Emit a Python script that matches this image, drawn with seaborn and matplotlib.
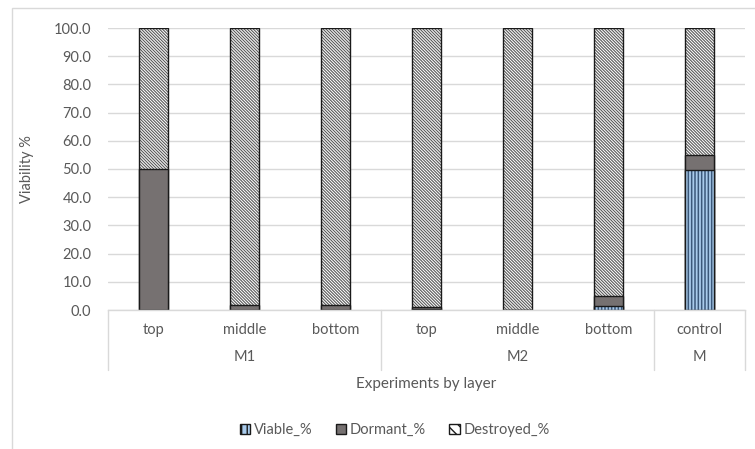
import numpy as np
import pandas as pd
import matplotlib
matplotlib.use("Agg")
import matplotlib.pyplot as plt
import matplotlib.transforms as mtransforms
from matplotlib.patches import Patch, Rectangle
import seaborn as sns

# ── Data ──────────────────────────────────────────────────────────────────────
layers    = ["top", "middle", "bottom", "top", "middle", "bottom", "control"]
groups    = ["M1", "M2", "M"]
group_len = [3, 3, 1]
viable    = [0.0, 0.0, 0.0, 0.3, 0.0, 1.5, 49.5]
dormant   = [50.0, 1.7, 1.7, 0.7, 0.0, 3.5, 5.5]
destroyed = [50.0, 98.3, 98.3, 99.0, 100.0, 95.0, 45.0]

# ── Style ─────────────────────────────────────────────────────────────────────
sns.set_theme(style="white")
plt.rcParams["font.family"] = ["Lato", "DejaVu Sans"]

TEXT = "#595959"
GRID = "#d9d9d9"
C_VIABLE  = "#a9cbec"
C_DORMANT = "#767171"
EDGE = "#1a1a1a"
HATCH_GRAY = "#5a5a5a"
HATCH_BLUE = "#3b587a"

df = pd.DataFrame({
    "pos": [f"{i}" for i in range(len(layers))],
    "viable": viable,
    "dormant": dormant,
    "destroyed": destroyed,
})
df["cum_dormant"] = df["viable"] + df["dormant"]
df["cum_destroyed"] = df["cum_dormant"] + df["destroyed"]

fig = plt.figure(figsize=(7.55, 4.49), dpi=100)
ax = fig.add_axes([108 / 755, 1 - 310 / 449, (745 - 108) / 755, 282 / 449])

bar_w = 0.32
common = dict(x="pos", ax=ax, width=bar_w, saturation=1, errorbar=None)

# draw back to front: full stack, then lower parts on top
# hatch layer (hatch takes the edge colour) and a separate black outline layer
plt.rcParams["hatch.linewidth"] = 0.8
sns.barplot(data=df, y="cum_destroyed", color="white", hatch="\\" * 11,
            edgecolor=HATCH_GRAY, linewidth=0, **common)
sns.barplot(data=df, y="cum_destroyed", fill=False, edgecolor=EDGE,
            linewidth=1.0, **common)
sns.barplot(data=df, y="cum_dormant", color=C_DORMANT, edgecolor=EDGE,
            linewidth=1.0, **common)
plt.rcParams["hatch.linewidth"] = 1.1
sns.barplot(data=df, y="viable", color=C_VIABLE, hatch="|" * 5,
            edgecolor=HATCH_BLUE, linewidth=0, **common)
sns.barplot(data=df, y="viable", fill=False, edgecolor=EDGE,
            linewidth=1.0, **common)

ax.set_ylim(0, 100)
ax.set_xlim(-0.5, len(layers) - 0.5)
ax.set_yticks(np.arange(0, 101, 10))
ax.set_yticklabels([f"{v:.1f}" for v in np.arange(0, 101, 10)],
                   color=TEXT, fontsize=10.5)
ax.tick_params(axis="y", length=0, pad=12)
ax.yaxis.grid(True, color=GRID, linewidth=1.0)
ax.set_axisbelow(True)
for s in ["top", "right", "left"]:
    ax.spines[s].set_visible(False)
ax.spines["bottom"].set_color(GRID)
ax.spines["bottom"].set_linewidth(1.0)
ax.set_xticks([])
ax.set_xlabel("")
ax.set_ylabel("Viability %", color=TEXT, fontsize=10.5, labelpad=14)

# ── Multi-level category axis ─────────────────────────────────────────────────
trans = mtransforms.blended_transform_factory(ax.transData, ax.transAxes)
for i, lab in enumerate(layers):
    ax.text(i, -0.071, lab, transform=trans, ha="center", va="center",
            color=TEXT, fontsize=10.5)

edges = [-0.5]
for n in group_len:
    edges.append(edges[-1] + n)
for g, lo, hi in zip(groups, edges[:-1], edges[1:]):
    ax.text((lo + hi) / 2, -0.167, g, transform=trans, ha="center", va="center",
            color=TEXT, fontsize=10.5)
for e in edges:
    ax.plot([e, e], [0, -0.213], transform=trans, color=GRID, lw=1.0,
            clip_on=False)

ax.text(0.5, -0.262, "Experiments by layer", transform=ax.transAxes,
        ha="center", va="center", color=TEXT, fontsize=11)

# ── Legend ────────────────────────────────────────────────────────────────────
plt.rcParams["hatch.linewidth"] = 1.0
handles = [
    Patch(facecolor=C_VIABLE, edgecolor=EDGE, hatch="|" * 3, label="Viable_%"),
    Patch(facecolor=C_DORMANT, edgecolor=EDGE, label="Dormant_%"),
    Patch(facecolor="white", edgecolor=EDGE, hatch="\\" * 3, label="Destroyed_%"),
]
leg = fig.legend(handles=handles, loc="center", bbox_to_anchor=(0.523, 1 - 430 / 449),
                 ncol=3, frameon=False, fontsize=10.5, handlelength=0.7,
                 handleheight=0.7, handletextpad=0.25, columnspacing=1.6)
for t in leg.get_texts():
    t.set_color(TEXT)

# chart border
fig.patches.append(Rectangle((12 / 755, -0.1), 1.1, 1.1 - 8 / 449,
                             transform=fig.transFigure, fill=False,
                             edgecolor=GRID, linewidth=1.0))

fig.savefig("out.png", dpi=100)
